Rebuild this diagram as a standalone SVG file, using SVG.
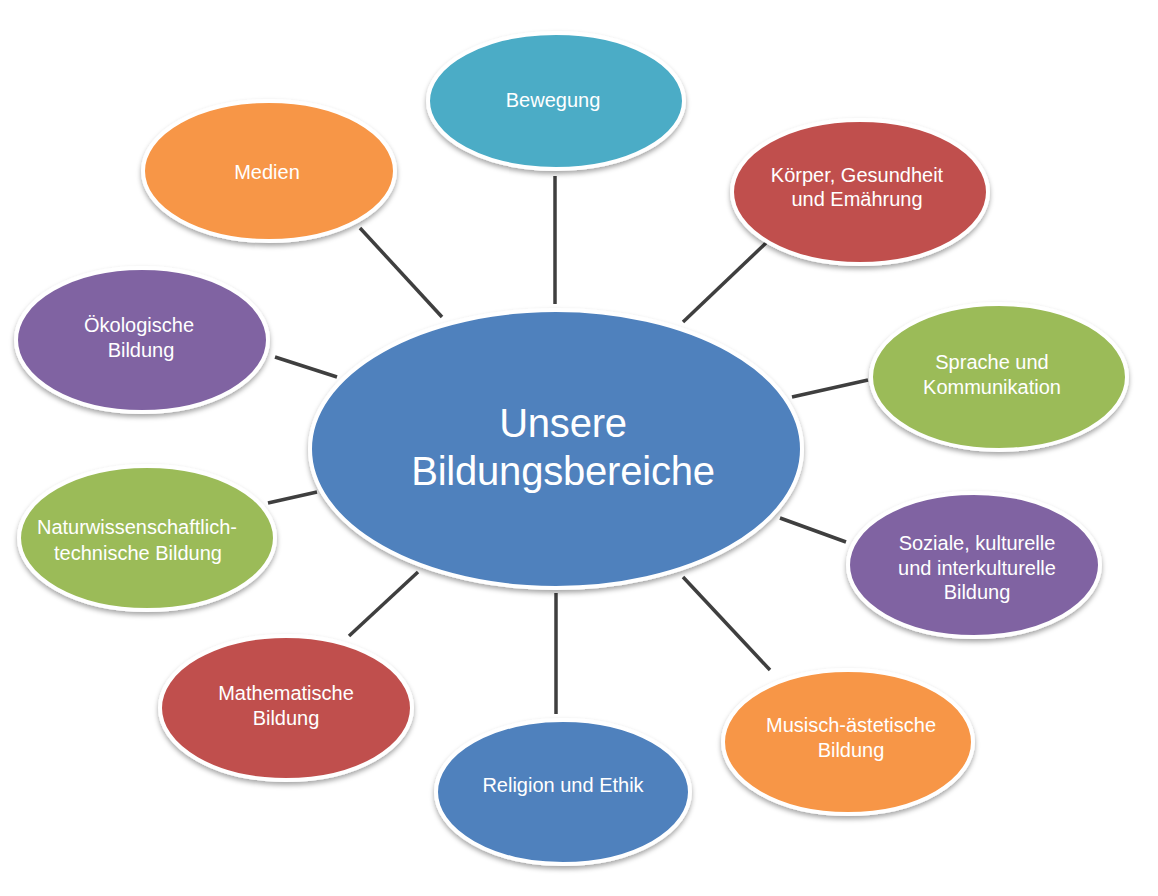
<svg xmlns="http://www.w3.org/2000/svg" width="1158" height="896" viewBox="0 0 1158 896">
<defs>
<filter id="sh" x="-10%" y="-10%" width="120%" height="130%">
<feDropShadow dx="0" dy="3" stdDeviation="2.5" flood-color="#000" flood-opacity="0.35"/>
</filter>
<style>
.n{stroke:#fff;stroke-width:4;filter:url(#sh)}
.t{font-family:"Liberation Sans",Arial,sans-serif;font-size:20px;fill:#fff;text-anchor:middle}
.c{font-family:"Liberation Sans",Arial,sans-serif;font-size:40px;fill:#fff;text-anchor:middle;letter-spacing:-0.2px}
.l{stroke:#3f3f3f;stroke-width:3.5;stroke-linecap:butt}
.aqua{fill:#4BACC6}.red{fill:#C0504D}.orange{fill:#F79646}.purple{fill:#8064A2}.green{fill:#9BBB59}.blue{fill:#4F81BD}
</style>
</defs>
<rect width="1158" height="896" fill="#fff"/>
<g id="connectors">
<line class="l" x1="555" y1="176" x2="555" y2="304"/>
<line class="l" x1="767" y1="242" x2="683" y2="322"/>
<line class="l" x1="360" y1="228" x2="442" y2="317"/>
<line class="l" x1="275" y1="357" x2="337" y2="377"/>
<line class="l" x1="268" y1="503" x2="317" y2="492"/>
<line class="l" x1="792" y1="397" x2="868" y2="380"/>
<line class="l" x1="780" y1="518" x2="846" y2="542"/>
<line class="l" x1="683" y1="577" x2="770" y2="670"/>
<line class="l" x1="349" y1="636" x2="418" y2="572"/>
<line class="l" x1="556" y1="593" x2="556" y2="714"/>
</g>
<g id="node-bewegung"><ellipse class="n aqua" cx="556" cy="101" rx="128" ry="68"/><text class="t" x="553" y="107">Bewegung</text></g>
<g id="node-koerper"><ellipse class="n red" cx="860" cy="192" rx="128" ry="72"/><text class="t" x="857" y="182">Körper, Gesundheit</text><text class="t" x="857" y="206">und Emährung</text></g>
<g id="node-medien"><ellipse class="n orange" cx="269" cy="171" rx="126" ry="70"/><text class="t" x="267" y="179">Medien</text></g>
<g id="node-oekologische"><ellipse class="n purple" cx="142" cy="340" rx="126" ry="72"/><text class="t" x="139" y="332">Ökologische</text><text class="t" x="141" y="357">Bildung</text></g>
<g id="node-naturwiss"><ellipse class="n green" cx="147" cy="538" rx="128" ry="72"/><text class="t" x="137" y="534">Naturwissenschaftlich-</text><text class="t" x="138" y="560">technische Bildung</text></g>
<g id="node-sprache"><ellipse class="n green" cx="999" cy="377" rx="128" ry="73"/><text class="t" x="992" y="369">Sprache und</text><text class="t" x="992" y="394">Kommunikation</text></g>
<g id="node-soziale"><ellipse class="n purple" cx="974" cy="565" rx="126" ry="72"/><text class="t" x="977" y="550">Soziale, kulturelle</text><text class="t" x="977" y="575">und interkulturelle</text><text class="t" x="977" y="599">Bildung</text></g>
<g id="node-mathematische"><ellipse class="n red" cx="286" cy="708" rx="126" ry="72"/><text class="t" x="286" y="700">Mathematische</text><text class="t" x="286" y="725">Bildung</text></g>
<g id="node-religion"><ellipse class="n blue" cx="563" cy="792" rx="127" ry="72"/><text class="t" x="563" y="792">Religion und Ethik</text></g>
<g id="node-musisch"><ellipse class="n orange" cx="848" cy="742" rx="125" ry="72"/><text class="t" x="851" y="732">Musisch-ästetische</text><text class="t" x="851" y="757">Bildung</text></g>
<g id="node-center"><ellipse class="n blue" cx="556" cy="449" rx="246" ry="139"/><text class="c" x="563" y="437">Unsere</text><text class="c" x="563" y="485">Bildungsbereiche</text></g>
</svg>
